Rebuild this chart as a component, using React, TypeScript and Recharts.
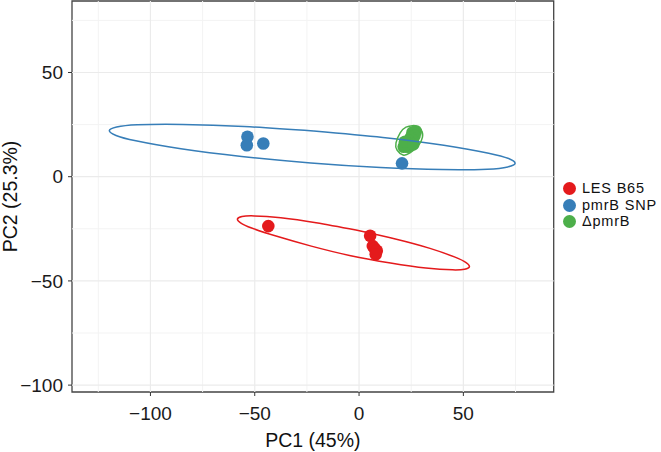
import { ScatterChart, Scatter, XAxis, YAxis, ReferenceLine, ReferenceArea, Legend } from 'recharts'

const font = 'Liberation Sans, Arial, Helvetica, sans-serif'

const xTicks = [-100, -50, 0, 50]
const yTicks = [-100, -50, 0, 50]
const xMinor = [-125, -75, -25, 25, 75]
const yMinor = [-75, -25, 25, 75]
const xDomain: [number, number] = [-137.6, 93.3]
const yDomain: [number, number] = [-103.3, 84.3]

const groups = ['LES B65', 'pmrB SNP', '\u0394pmrB']
const colors = ['#E41A1C', '#377EB8', '#4DAF4A']

// samples (PC1, PC2)
const lesB65 = [
  { x: -43.5, y: -23.7 },
  { x: 5.3, y: -28.3 },
  { x: 6.6, y: -33.3 },
  { x: 7.5, y: -34.5 },
  { x: 8.5, y: -35.5 },
  { x: 8.0, y: -37.2 },
]

const pmrbSnp = [
  { x: -53.5, y: 19.2 },
  { x: -53.8, y: 15.1 },
  { x: -45.9, y: 15.9 },
  { x: 20.6, y: 6.4 },
]

const deltaPmrb = [
  { x: 27.2, y: 21.8 },
  { x: 25.6, y: 21.2 },
  { x: 26.6, y: 19.6 },
  { x: 24.8, y: 18.8 },
  { x: 25.8, y: 17.6 },
  { x: 23.8, y: 17.2 },
  { x: 24.6, y: 16.0 },
  { x: 22.6, y: 15.6 },
  { x: 23.4, y: 14.4 },
  { x: 21.4, y: 14.4 },
  { x: 22.0, y: 16.8 },
  { x: 26.0, y: 15.6 },
]

// confidence ellipse outlines
const lesB65Ellipse = [
  { x: -1.5, y: -25.6 }, { x: 17.4, y: -29.9 }, { x: 34.0, y: -34.4 }, { x: 46.0, y: -38.6 },
  { x: 51.3, y: -41.2 }, { x: 52.9, y: -43.2 }, { x: 50.6, y: -44.4 }, { x: 44.8, y: -44.7 },
  { x: 32.0, y: -43.8 }, { x: 15.1, y: -41.4 }, { x: -4.0, y: -37.9 }, { x: -22.9, y: -33.3 },
  { x: -39.4, y: -28.6 }, { x: -51.5, y: -24.6 }, { x: -56.8, y: -22.1 }, { x: -58.3, y: -20.3 },
  { x: -56.1, y: -19.1 }, { x: -50.2, y: -18.8 }, { x: -37.5, y: -19.7 }, { x: -20.6, y: -22.1 },
  { x: -1.5, y: -25.6 },
]

const pmrbSnpEllipse = [
  { x: -21.8, y: 21.9 }, { x: 11.4, y: 18.8 }, { x: 40.6, y: 15.1 }, { x: 62.1, y: 11.3 },
  { x: 71.7, y: 8.7 }, { x: 74.8, y: 6.4 }, { x: 71.3, y: 4.7 }, { x: 61.5, y: 3.6 },
  { x: 39.6, y: 3.4 }, { x: 10.3, y: 4.4 }, { x: -23.1, y: 6.6 }, { x: -56.3, y: 9.7 },
  { x: -85.4, y: 13.4 }, { x: -107.0, y: 17.2 }, { x: -116.5, y: 19.8 }, { x: -119.7, y: 22.1 },
  { x: -116.2, y: 23.8 }, { x: -106.3, y: 24.9 }, { x: -84.5, y: 25.1 }, { x: -55.1, y: 24.1 },
  { x: -21.8, y: 21.9 },
]

const deltaPmrbEllipse = [
  { x: 26.4, y: 24.6 }, { x: 29.7, y: 22.4 }, { x: 30.4, y: 19.0 }, { x: 28.3, y: 14.7 },
  { x: 24.4, y: 11.4 }, { x: 21.1, y: 10.4 }, { x: 18.2, y: 12.8 }, { x: 17.7, y: 16.2 },
  { x: 19.7, y: 21.0 }, { x: 22.5, y: 23.8 }, { x: 26.4, y: 24.6 },
]

const points = [lesB65, pmrbSnp, deltaPmrb]
const ellipses = [lesB65Ellipse, pmrbSnpEllipse, deltaPmrbEllipse]

const fmt = (v: number) => String(v).replace('-', '\u2212')

const tickStyle = { fontSize: 19, fill: '#1a1a1a', fontFamily: font }
const titleStyle = { fontSize: 19.5, fill: '#111', fontFamily: font }

function LegendBox() {
  return (
    <div style={{ fontFamily: font, fontSize: 14.5, letterSpacing: 0.8, color: '#111' }}>
      {groups.map((g, i) => (
        <div key={g} style={{ display: 'flex', alignItems: 'center', height: 16.8, lineHeight: '16.8px', whiteSpace: 'nowrap' }}>
          <span
            style={{
              display: 'inline-block',
              flex: 'none',
              width: 13,
              height: 13,
              borderRadius: '50%',
              background: colors[i],
              marginRight: 6,
            }}
          />
          <span>{g}</span>
        </div>
      ))}
    </div>
  )
}

export default function App() {
  return (
    <div style={{ position: 'absolute', left: 0, top: 0, width: 661, height: 452, background: '#fff' }}>
      <ScatterChart width={661} height={452} margin={{ top: 1, right: 107.3, bottom: 0, left: 0 }}>
        <XAxis
          type="number"
          dataKey="x"
          domain={xDomain}
          allowDataOverflow
          ticks={xTicks}
          tickFormatter={fmt}
          height={60}
          axisLine={false}
          tickLine={{ stroke: '#333' }}
          tickSize={4}
          tickMargin={11}
          tick={tickStyle}
          label={{ value: 'PC1 (45%)', position: 'insideBottom', offset: 5, style: titleStyle }}
        />
        <YAxis
          type="number"
          dataKey="y"
          domain={yDomain}
          allowDataOverflow
          ticks={yTicks}
          tickFormatter={fmt}
          width={72}
          axisLine={false}
          tickLine={{ stroke: '#333' }}
          tickSize={4}
          tickMargin={5}
          tick={tickStyle}
          label={{
            value: 'PC2 (25.3%)',
            angle: -90,
            position: 'insideLeft',
            offset: 10,
            style: { ...titleStyle, textAnchor: 'middle' },
          }}
        />
        {xMinor.map((v) => (
          <ReferenceLine key={'xm' + v} x={v} stroke="#f3f3f3" strokeWidth={1} />
        ))}
        {yMinor.map((v) => (
          <ReferenceLine key={'ym' + v} y={v} stroke="#f3f3f3" strokeWidth={1} />
        ))}
        {xTicks.map((v) => (
          <ReferenceLine key={'x' + v} x={v} stroke="#ebebeb" strokeWidth={1.2} />
        ))}
        {yTicks.map((v) => (
          <ReferenceLine key={'y' + v} y={v} stroke="#ebebeb" strokeWidth={1.2} />
        ))}
        {points.map((d, i) => (
          <Scatter
            key={'p' + i}
            name={groups[i]}
            data={d}
            fill={colors[i]}
            isAnimationActive={false}
            shape={(p: any) => <circle cx={p.cx} cy={p.cy} r={6.3} fill={colors[i]} />}
          />
        ))}
        {ellipses.map((d, i) => (
          <Scatter
            key={'e' + i}
            data={d}
            fill={colors[i]}
            legendType="none"
            isAnimationActive={false}
            line={{ stroke: colors[i], strokeWidth: 1.5 }}
            lineType="joint"
            lineJointType="natural"
            shape={() => <g />}
          />
        ))}
        <ReferenceArea
          x1={xDomain[0]}
          x2={xDomain[1]}
          y1={yDomain[0]}
          y2={yDomain[1]}
          fill="none"
          fillOpacity={0}
          stroke="#444"
          strokeWidth={1.3}
        />
        <Legend
          layout="horizontal"
          align="center"
          verticalAlign="middle"
          content={() => <LegendBox />}
          wrapperStyle={{ left: 563, top: 179.9, width: 98, height: 52 }}
        />
      </ScatterChart>
    </div>
  )
}
